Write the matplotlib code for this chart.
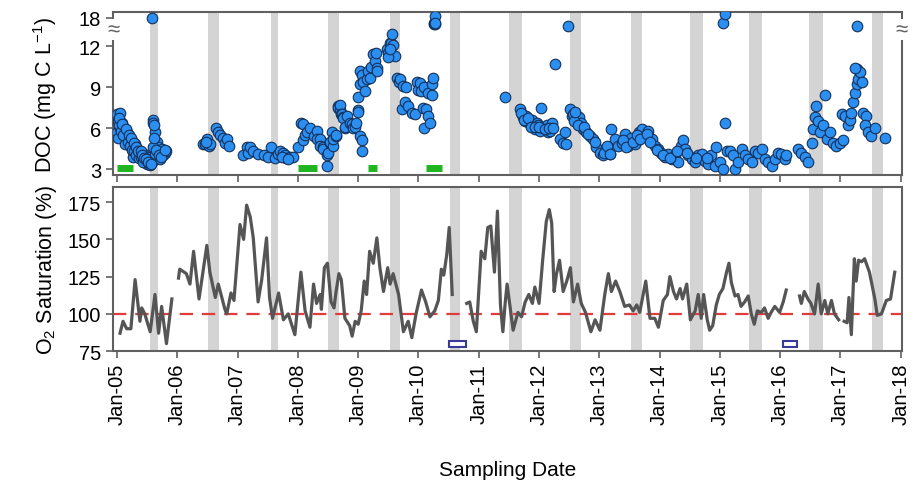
import numpy as np
import matplotlib
matplotlib.use('Agg')
import matplotlib.pyplot as plt
import matplotlib.transforms as mtransforms
from matplotlib.patches import Rectangle

plt.rcParams['font.family'] = ['Liberation Sans', 'DejaVu Sans']
plt.rcParams['mathtext.fontset'] = 'custom'
plt.rcParams['mathtext.rm'] = 'Liberation Sans'

# x values are years since Jan 2005
year_ticks = list(range(14))
year_labels = ['Jan-05', 'Jan-06', 'Jan-07', 'Jan-08', 'Jan-09', 'Jan-10', 'Jan-11',
               'Jan-12', 'Jan-13', 'Jan-14', 'Jan-15', 'Jan-16', 'Jan-17', 'Jan-18']

# summer (grey) periods
band_start = [0.55, 1.51, 2.55, 3.50, 4.53, 5.52, 6.50, 7.51, 8.52, 9.50, 10.48, 11.48, 12.52]
band_end = [0.68, 1.69, 2.67, 3.68, 4.69, 5.69, 6.72, 7.69, 8.71, 9.72, 10.70, 11.71, 12.70]

# green bars (top panel)
green_start = [0.00, 3.00, 4.16, 5.12]
green_end = [0.27, 3.32, 4.31, 5.39]

# open blue boxes (bottom panel)
box_start = [5.51, 11.04]
box_end = [5.79, 11.28]

# DOC (mg C/L)
doc_t = [0.00, 0.02, 0.05, 0.08, 0.00, 0.05, 0.11, 0.01, 0.13, 0.16, 0.19, 0.13, 0.22, 0.24, 0.27,
         0.30, 0.33, 0.27, 0.35, 0.38, 0.41, 0.44, 0.46, 0.49, 0.52, 0.55, 0.58, 0.58, 0.59, 0.60,
         0.63, 0.66, 0.68, 0.71, 0.74, 0.77, 0.80, 0.82, 0.60, 0.63, 0.71, 0.03, 0.07, 0.10, 0.18,
         0.21, 0.25, 0.29, 0.32, 0.36, 0.40, 0.43, 0.47, 0.50, 0.53, 0.61, 0.62, 0.65, 0.69, 0.73,
         0.79, 0.04, 0.09, 0.15, 0.20, 0.23, 0.28, 0.31, 0.34, 0.39, 0.42, 0.45, 0.48, 0.51, 0.56,
         1.43, 1.46, 1.49, 1.52, 1.54, 1.47, 1.65, 1.68, 1.71, 1.76, 1.79, 1.82, 1.85,
         2.09, 2.15, 2.18, 2.21, 2.26, 2.34, 2.43, 2.51, 2.56, 2.62, 2.67, 2.70, 2.76, 2.79, 2.81,
         2.87, 2.92, 2.74, 2.84,
         3.01, 3.06, 3.09, 3.09, 3.12, 3.15, 3.20, 3.26, 3.31, 3.31, 3.37, 3.37, 3.42, 3.42, 3.48,
         3.48, 3.50, 3.53, 3.53, 3.56, 3.59, 3.59, 3.64, 3.64, 3.67, 3.67, 3.70, 3.70, 3.72, 3.73,
         3.75, 3.75, 3.78, 3.78, 3.81, 3.86, 3.89, 3.92, 3.95, 3.97, 4.00, 4.00, 4.03, 4.06, 4.07,
         4.00, 4.03, 4.03, 4.06, 4.08, 4.11, 4.14, 4.17, 4.19, 4.22, 4.25, 4.28, 4.30, 4.31, 4.32,
         4.47, 4.50, 4.52, 4.54, 4.56, 4.58, 4.61, 4.49, 4.53,
         4.64, 4.67, 4.69, 4.72, 4.75, 4.78, 4.80, 4.83, 4.89, 4.94, 4.97, 4.99, 5.02, 5.05, 5.08,
         5.10, 5.10, 5.13, 5.16, 5.16, 5.19, 5.22, 5.22, 5.24, 5.25, 5.26, 5.27, 5.28, 5.27,
         6.43,
         6.68, 6.71, 6.74, 6.77, 6.79, 6.85, 6.88, 6.90, 6.93, 6.96, 6.99, 7.02, 7.04, 7.07, 7.13,
         7.15, 7.18, 7.21, 7.26, 7.48, 7.35, 7.40, 7.45, 7.43, 7.51, 7.54, 7.56, 7.62, 7.67, 7.70,
         7.73, 7.78, 7.84, 7.89, 7.95, 8.01, 8.06, 8.12, 8.17, 8.20, 8.26, 8.31,
         6.70, 6.75, 6.82, 6.87, 6.94, 7.00, 7.10, 7.16, 7.23, 7.58, 7.60, 7.65, 7.75, 7.81, 7.92,
         8.07, 8.12, 8.18, 8.37, 8.42, 8.48, 8.53, 8.59, 8.65, 8.70, 8.76, 8.81, 8.87, 8.92, 8.98,
         9.03, 9.09, 9.14, 9.20, 9.25, 9.31, 9.36, 9.39, 9.42, 9.47, 9.53, 9.58, 9.64, 9.70, 9.75,
         9.81, 9.86, 9.92, 9.94, 10.00, 10.05, 10.08, 10.05, 10.08, 10.11, 10.16, 10.22, 10.25,
         10.30, 10.36, 10.41, 10.47, 10.53, 10.58, 10.64, 10.69, 10.75, 10.80, 10.86, 10.91, 10.97,
         11.02, 11.08, 11.10,
         8.40, 8.45, 8.56, 8.62, 8.68, 8.79, 8.84, 8.95, 9.06, 9.17, 9.28, 9.45, 9.61, 9.78,
         11.30, 11.35, 11.41, 11.46, 11.52, 11.55, 11.58, 11.60, 11.63, 11.66, 11.71, 11.74, 11.77,
         11.82, 11.88, 11.93, 11.99, 12.04,
         12.02, 12.07, 12.13, 12.15, 12.18, 12.21, 12.24, 12.27, 12.29, 12.27, 12.32, 12.35, 12.24,
         12.27, 12.38, 12.43, 12.40, 12.46, 12.51, 12.57, 12.73]
doc_v = [7.0, 6.5, 7.1, 6.4, 5.7, 6.0, 6.0, 5.3, 5.4, 5.7, 5.2, 4.8, 5.0, 5.2, 4.6,
         4.8, 4.5, 3.9, 4.2, 4.0, 3.7, 4.1, 3.6, 3.4, 3.9, 3.3, 3.5, 18.0, 6.6, 6.4,
         5.7, 5.0, 4.6, 4.1, 4.5, 4.0, 4.2, 4.3, 4.6, 4.0, 3.7, 6.2, 5.8, 5.5, 5.0,
         4.7, 4.4, 4.3, 4.0, 3.8, 3.9, 3.5, 3.8, 3.6, 3.5, 5.3, 6.2, 4.4, 4.0, 3.9,
         4.4, 6.7, 6.3, 5.9, 5.5, 5.3, 4.9, 4.6, 4.3, 4.3, 4.0, 3.8, 3.7, 3.5, 3.4,
         4.8, 4.8, 5.2, 4.7, 4.8, 5.0, 6.0, 5.7, 5.5, 5.3, 4.9, 5.2, 4.7,
         4.0, 4.6, 4.2, 4.6, 4.3, 4.1, 4.0, 3.9, 4.6, 3.8, 4.1, 4.3, 4.2, 4.0, 3.8,
         3.9, 3.9, 3.9, 3.7,
         4.6, 6.4, 5.1, 6.3, 5.5, 5.7, 6.0, 5.4, 5.8, 5.2, 5.2, 4.7, 4.6, 4.5, 3.2,
         4.0, 4.2, 4.9, 5.0, 5.7, 4.7, 5.2, 5.4, 5.5, 7.6, 7.5, 7.3, 7.7, 7.0, 7.0,
         6.8, 6.7, 6.0, 6.1, 6.9, 6.4, 6.3, 6.0, 6.1, 6.4, 7.3, 7.2, 5.4, 5.1, 4.3,
         8.3, 9.2, 10.2, 9.9, 9.4, 8.7, 9.6, 10.2, 9.7, 10.5, 11.4, 10.9, 11.5, 10.4, 10.2,
         11.8, 11.5, 12.2, 12.2, 12.85, 12.1, 11.3, 11.2, 11.8,
         9.7, 9.4, 9.6, 7.4, 9.1, 7.9, 9.0, 7.6, 7.1, 7.0, 9.4, 8.8, 9.3, 8.7, 7.5,
         9.0, 6.0, 7.4, 8.6, 6.9, 6.4, 8.4, 9.2, 9.7, 17.5, 17.6, 17.5, 18.1, 17.6,
         8.3,
         7.4, 7.0, 6.8, 6.5, 6.9, 6.3, 6.6, 6.2, 5.9, 6.4, 6.2, 5.8, 7.5, 6.0, 6.2,
         5.7, 5.8, 6.4, 10.7, 17.4, 5.2, 4.9, 4.8, 5.7, 7.4, 6.9, 7.0, 6.6, 6.8, 6.4,
         5.9, 5.7, 5.4, 5.2, 4.6, 4.2, 4.0, 4.3, 4.1, 5.9, 5.2, 4.7,
         7.1, 6.6, 6.7, 6.1, 6.1, 6.1, 5.9, 6.0, 6.0, 6.5, 7.2, 6.2, 6.1, 5.6, 5.0,
         4.2, 4.7, 4.1, 4.9, 5.6, 4.7, 5.3, 4.8, 5.7, 5.9, 5.4, 5.8, 5.2, 4.7, 4.5,
         4.2, 3.9, 4.1, 3.7, 4.0, 3.5, 4.7, 5.1, 4.5, 4.0, 3.7, 3.5, 4.0, 4.1, 3.6,
         3.4, 4.0, 3.2, 4.6, 3.5, 3.0, 6.4, 17.6, 18.3, 4.3, 4.3, 4.0, 3.0,
         3.5, 4.5, 4.0, 3.7, 3.5, 4.3, 4.2, 4.5, 3.7, 3.5, 3.2, 3.7, 4.2,
         4.1, 3.7, 4.0,
         5.1, 4.6, 5.0, 5.5, 5.2, 5.6, 5.0, 4.4, 4.0, 3.8, 4.3, 4.2, 3.8, 3.8,
         4.5, 4.2, 3.9, 3.5, 4.9, 5.9, 6.8, 7.6, 6.5, 5.7, 6.2, 8.4, 5.2,
         5.7, 4.9, 4.7, 4.9, 5.1,
         7.0, 6.9, 6.2, 6.6, 7.1, 7.9, 8.6, 9.2, 9.6, 10.3, 10.1, 9.4, 10.4,
         17.4, 7.1, 6.9, 6.2, 5.7, 5.4, 6.0, 5.3]

# O2 saturation (%), nan = gap in record
o2_t = [0.05, 0.10, 0.16, 0.23, 0.30, 0.38, 0.41, 0.46, 0.55, 0.63, 0.69, 0.74, 0.82, 0.91, np.nan,
        1.02, 1.04, 1.15, 1.21, 1.27, 1.36, 1.49, 1.54, 1.63, 1.68, 1.79, 1.82, 1.89, 1.94,
        2.04, 2.10, 2.15, 2.21, 2.26, 2.34, 2.40, 2.44, 2.48, 2.53, 2.58, 2.68, 2.76, 2.84, 2.95,
        3.05, 3.12, 3.20, 3.26, 3.31, 3.37, 3.39, 3.44, 3.49, 3.55, 3.60, 3.63, 3.68, 3.72, 3.78,
        3.86, 3.90, 3.95, 4.00, 4.05, 4.10, 4.14, 4.19, 4.25, 4.31, 4.36, 4.42, 4.49, 4.53, 4.58,
        4.67, 4.75, 4.83, 4.89, 4.96, 5.05, 5.12, 5.19, 5.27, 5.33, 5.38, 5.42, 5.47, 5.51, 5.56,
        np.nan,
        5.80, 5.85, 5.91, 5.96, 6.04, 6.10, 6.15, 6.20, 6.26, 6.31, 6.36, 6.40, 6.44, 6.47, 6.57,
        6.65, 6.71, 6.77, 6.83, 6.89, 6.93, 7.00, 7.06, 7.12, 7.17, 7.21, 7.25, 7.29, 7.34, 7.40,
        7.46, 7.52, 7.57, 7.64, 7.70, 7.77, 7.86, 7.93, 8.01, 8.09, 8.15, 8.20, 8.27, 8.34, 8.42,
        8.50, 8.56, 8.62, 8.67, 8.77, 8.84, 8.92, 8.98, 9.06, 9.13, 9.17, 9.23, 9.28, 9.34, 9.38,
        9.45, 9.51, 9.59, 9.64, 9.69, 9.73, 9.79, 9.83, 9.88, 9.94, 9.99, 10.05, 10.11, 10.15,
        10.19, 10.25, 10.30, 10.35, 10.41, 10.47, 10.52, 10.57, 10.62, 10.69, 10.74, 10.80, 10.85,
        10.91, 10.99, 11.05, 11.10, np.nan,
        11.32, 11.35, 11.40, 11.46, 11.51, 11.57, 11.63, 11.68, 11.74, 11.79, 11.85, 11.90, 11.97,
        np.nan,
        12.06, 12.11, 12.14, 12.18, 12.23, 12.26, 12.30, 12.35, 12.40, 12.48, 12.57, 12.61, 12.68,
        12.76, 12.83, 12.90]
o2_v = [87, 95, 90, 90, 123, 95, 104, 100, 88, 113, 87, 105, 80, 110, np.nan,
        124, 130, 127, 120, 142, 110, 146, 128, 111, 120, 103, 100, 114, 109,
        160, 150, 173, 165, 151, 108, 123, 137, 151, 111, 97, 114, 96, 100, 86,
        128, 102, 91, 120, 107, 113, 103, 131, 134, 108, 104, 114, 127, 123, 97,
        92, 85, 95, 93, 102, 122, 113, 142, 134, 151, 131, 115, 131, 120, 127,
        113, 88, 95, 84, 100, 116, 108, 98, 102, 109, 130, 126, 140, 158, 113,
        np.nan,
        107, 108, 95, 88, 142, 137, 158, 159, 128, 169, 106, 88, 108, 120, 89,
        101, 98, 108, 113, 107, 118, 107, 136, 162, 170, 161, 115, 127, 136, 115,
        122, 131, 108, 120, 107, 101, 88, 96, 89, 113, 127, 115, 122, 115, 105,
        106, 102, 106, 101, 122, 97, 97, 91, 109, 113, 125, 115, 110, 117, 110,
        120, 96, 102, 113, 97, 113, 96, 89, 92, 106, 113, 117, 128, 134,
        121, 112, 113, 105, 108, 112, 100, 93, 102, 101, 104, 97, 101,
        105, 101, 108, 116, np.nan,
        112, 107, 115, 110, 107, 100, 120, 100, 109, 100, 109, 100, 96,
        np.nan,
        95, 94, 111, 86, 137, 122, 136, 135, 137, 128, 110, 99, 100,
        109, 110, 128]

# broken DOC axis: values between LO and HI are squeezed out
LO, HI, K = 13.2, 17.2, 0.02


def fwd(v):
    v = np.asarray(v, dtype=float)
    return np.where(v <= LO, v, np.where(v < HI, LO + (v - LO) * K, LO + (HI - LO) * K + (v - HI)))


def inv(u):
    u = np.asarray(u, dtype=float)
    g = LO + (HI - LO) * K
    return np.where(u <= LO, u, np.where(u < g, LO + (u - LO) / K, HI + (u - g)))


fig = plt.figure(figsize=(9.16, 4.89), dpi=100)
ax1 = fig.add_axes([0.1234, 0.640, 0.8613, 0.333])
ax2 = fig.add_axes([0.1234, 0.280, 0.8613, 0.335])

spine_col = '#606060'
for ax in (ax1, ax2):
    for s0, s1 in zip(band_start, band_end):
        ax.axvspan(s0, s1, color='#d4d4d4', lw=0, zorder=0)
    ax.set_xlim(-0.066, 13.02)
    ax.set_xticks(year_ticks)
    for sp in ax.spines.values():
        sp.set_color(spine_col)
        sp.set_linewidth(1.5)
    ax.tick_params(direction='out', length=5, width=1.2, color=spine_col, labelsize=14.5)

# top panel: DOC
ax1.set_yscale('function', functions=(fwd, inv))
ax1.hlines([3.05] * len(green_start), green_start, green_end, color='#1fb51f', lw=5, zorder=2)
ax1.scatter(doc_t, doc_v, s=58, facecolor='#2a8ff0', edgecolor='#15305a', linewidth=0.8, zorder=3)
ax1.set_ylim(2.56, 18.4)
ax1.set_yticks([3, 6, 9, 12, 18])
ax1.set_yticklabels(['3', '6', '9', '12', '18'])
ax1.tick_params(axis='x', labelbottom=False)
ax1.set_ylabel('DOC (mg C L$^{-1}$)', fontsize=15.5)
ax1.yaxis.set_label_coords(-0.068, 0.5)
tr = mtransforms.blended_transform_factory(ax1.transAxes, ax1.transData)
for xb in (0, 1):
    ax1.text(xb, LO + 0.05, '\u2248', transform=tr, ha='center', va='center', fontsize=16,
             color=spine_col, zorder=5, clip_on=False,
             bbox=dict(facecolor='white', edgecolor='none', pad=0.2))

# bottom panel: O2 saturation
ax2.axhline(100, color='#e03c3c', lw=1.6, ls=(0, (6, 4)), zorder=2)
ax2.plot(o2_t, o2_v, color='#555555', lw=2.3, zorder=3)
for b0, b1 in zip(box_start, box_end):
    ax2.add_patch(Rectangle((b0, 77.5), b1 - b0, 4.5, facecolor='white', edgecolor='#3a3a9a',
                            lw=1.5, zorder=4))
ax2.set_ylim(75, 185)
ax2.set_yticks([75, 100, 125, 150, 175])
ax2.set_xticklabels(year_labels, rotation=90)
ax2.set_ylabel('O$_2$ Saturation (%)', fontsize=15.5)
ax2.yaxis.set_label_coords(-0.068, 0.5)
ax2.set_xlabel('Sampling Date', fontsize=15, labelpad=26)

fig.savefig('out.png', dpi=100)
